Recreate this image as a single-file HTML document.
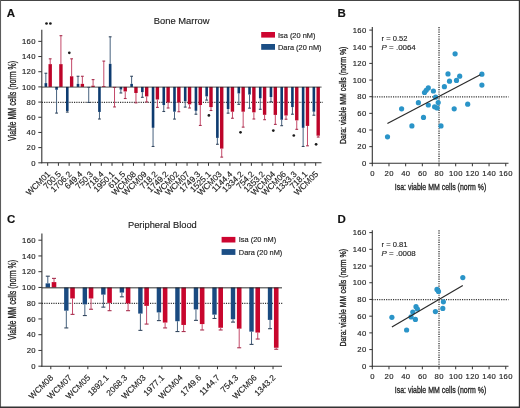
<!DOCTYPE html>
<html><head><meta charset="utf-8"><style>
html,body{margin:0;padding:0;background:#fff;}
svg{display:block;font-family:"Liberation Sans", sans-serif;will-change:transform;}
text{stroke:#222;stroke-width:0.15px;paint-order:stroke;}
</style></head><body>
<svg width="520" height="408" viewBox="0 0 520 408">
<rect x="0" y="0" width="520" height="408" fill="#fff"/>
<line x1="41.8" y1="29.8" x2="41.8" y2="163.3" stroke="#333333" stroke-width="1.1" />
<line x1="38.3" y1="162.8" x2="41.8" y2="162.8" stroke="#333333" stroke-width="1" />
<text x="35.85" y="165.55" font-size="7.7" text-anchor="end" font-weight="normal" font-style="normal" fill="#222" letter-spacing="0.35">0</text>
<line x1="38.3" y1="147.62" x2="41.8" y2="147.62" stroke="#333333" stroke-width="1" />
<text x="35.85" y="150.37" font-size="7.7" text-anchor="end" font-weight="normal" font-style="normal" fill="#222" letter-spacing="0.35">20</text>
<line x1="38.3" y1="132.44" x2="41.8" y2="132.44" stroke="#333333" stroke-width="1" />
<text x="35.85" y="135.19" font-size="7.7" text-anchor="end" font-weight="normal" font-style="normal" fill="#222" letter-spacing="0.35">40</text>
<line x1="38.3" y1="117.26" x2="41.8" y2="117.26" stroke="#333333" stroke-width="1" />
<text x="35.85" y="120.01" font-size="7.7" text-anchor="end" font-weight="normal" font-style="normal" fill="#222" letter-spacing="0.35">60</text>
<line x1="38.3" y1="102.08" x2="41.8" y2="102.08" stroke="#333333" stroke-width="1" />
<text x="35.85" y="104.83" font-size="7.7" text-anchor="end" font-weight="normal" font-style="normal" fill="#222" letter-spacing="0.35">80</text>
<line x1="38.3" y1="86.9" x2="41.8" y2="86.9" stroke="#333333" stroke-width="1" />
<text x="35.85" y="89.65" font-size="7.7" text-anchor="end" font-weight="normal" font-style="normal" fill="#222" letter-spacing="0.35">100</text>
<line x1="38.3" y1="71.72" x2="41.8" y2="71.72" stroke="#333333" stroke-width="1" />
<text x="35.85" y="74.47" font-size="7.7" text-anchor="end" font-weight="normal" font-style="normal" fill="#222" letter-spacing="0.35">120</text>
<line x1="38.3" y1="56.54" x2="41.8" y2="56.54" stroke="#333333" stroke-width="1" />
<text x="35.85" y="59.29" font-size="7.7" text-anchor="end" font-weight="normal" font-style="normal" fill="#222" letter-spacing="0.35">140</text>
<line x1="38.3" y1="41.36" x2="41.8" y2="41.36" stroke="#333333" stroke-width="1" />
<text x="35.85" y="44.11" font-size="7.7" text-anchor="end" font-weight="normal" font-style="normal" fill="#222" letter-spacing="0.35">160</text>
<line x1="41.3" y1="162.8" x2="321.5" y2="162.8" stroke="#333333" stroke-width="1.1" />
<line x1="47.7" y1="162.8" x2="47.7" y2="165.8" stroke="#333333" stroke-width="1" />
<text x="50.8" y="174.7" font-size="8.4" text-anchor="end" fill="#1a1a1a" style="stroke-width:0.12px" transform="rotate(-45 50.8 174.7)">WCM01</text>
<line x1="58.42" y1="162.8" x2="58.42" y2="165.8" stroke="#333333" stroke-width="1" />
<text x="61.52" y="174.7" font-size="8.4" text-anchor="end" fill="#1a1a1a" style="stroke-width:0.12px" transform="rotate(-45 61.52 174.7)">700.5</text>
<line x1="69.14" y1="162.8" x2="69.14" y2="165.8" stroke="#333333" stroke-width="1" />
<text x="72.24" y="174.7" font-size="8.4" text-anchor="end" fill="#1a1a1a" style="stroke-width:0.12px" transform="rotate(-45 72.24 174.7)">1706.2</text>
<line x1="79.86" y1="162.8" x2="79.86" y2="165.8" stroke="#333333" stroke-width="1" />
<text x="82.96" y="174.7" font-size="8.4" text-anchor="end" fill="#1a1a1a" style="stroke-width:0.12px" transform="rotate(-45 82.96 174.7)">649.4</text>
<line x1="90.58" y1="162.8" x2="90.58" y2="165.8" stroke="#333333" stroke-width="1" />
<text x="93.68" y="174.7" font-size="8.4" text-anchor="end" fill="#1a1a1a" style="stroke-width:0.12px" transform="rotate(-45 93.68 174.7)">750.3</text>
<line x1="101.3" y1="162.8" x2="101.3" y2="165.8" stroke="#333333" stroke-width="1" />
<text x="104.4" y="174.7" font-size="8.4" text-anchor="end" fill="#1a1a1a" style="stroke-width:0.12px" transform="rotate(-45 104.4 174.7)">718.4</text>
<line x1="112.02" y1="162.8" x2="112.02" y2="165.8" stroke="#333333" stroke-width="1" />
<text x="115.12" y="174.7" font-size="8.4" text-anchor="end" fill="#1a1a1a" style="stroke-width:0.12px" transform="rotate(-45 115.12 174.7)">1950.1</text>
<line x1="122.74" y1="162.8" x2="122.74" y2="165.8" stroke="#333333" stroke-width="1" />
<text x="125.84" y="174.7" font-size="8.4" text-anchor="end" fill="#1a1a1a" style="stroke-width:0.12px" transform="rotate(-45 125.84 174.7)">611.5</text>
<line x1="133.46" y1="162.8" x2="133.46" y2="165.8" stroke="#333333" stroke-width="1" />
<text x="136.56" y="174.7" font-size="8.4" text-anchor="end" fill="#1a1a1a" style="stroke-width:0.12px" transform="rotate(-45 136.56 174.7)">WCM08</text>
<line x1="144.18" y1="162.8" x2="144.18" y2="165.8" stroke="#333333" stroke-width="1" />
<text x="147.28" y="174.7" font-size="8.4" text-anchor="end" fill="#1a1a1a" style="stroke-width:0.12px" transform="rotate(-45 147.28 174.7)">WCM09</text>
<line x1="154.9" y1="162.8" x2="154.9" y2="165.8" stroke="#333333" stroke-width="1" />
<text x="158" y="174.7" font-size="8.4" text-anchor="end" fill="#1a1a1a" style="stroke-width:0.12px" transform="rotate(-45 158 174.7)">718.2</text>
<line x1="165.62" y1="162.8" x2="165.62" y2="165.8" stroke="#333333" stroke-width="1" />
<text x="168.72" y="174.7" font-size="8.4" text-anchor="end" fill="#1a1a1a" style="stroke-width:0.12px" transform="rotate(-45 168.72 174.7)">1749.2</text>
<line x1="176.34" y1="162.8" x2="176.34" y2="165.8" stroke="#333333" stroke-width="1" />
<text x="179.44" y="174.7" font-size="8.4" text-anchor="end" fill="#1a1a1a" style="stroke-width:0.12px" transform="rotate(-45 179.44 174.7)">WCM02</text>
<line x1="187.06" y1="162.8" x2="187.06" y2="165.8" stroke="#333333" stroke-width="1" />
<text x="190.16" y="174.7" font-size="8.4" text-anchor="end" fill="#1a1a1a" style="stroke-width:0.12px" transform="rotate(-45 190.16 174.7)">WCM07</text>
<line x1="197.78" y1="162.8" x2="197.78" y2="165.8" stroke="#333333" stroke-width="1" />
<text x="200.88" y="174.7" font-size="8.4" text-anchor="end" fill="#1a1a1a" style="stroke-width:0.12px" transform="rotate(-45 200.88 174.7)">1749.3</text>
<line x1="208.5" y1="162.8" x2="208.5" y2="165.8" stroke="#333333" stroke-width="1" />
<text x="211.6" y="174.7" font-size="8.4" text-anchor="end" fill="#1a1a1a" style="stroke-width:0.12px" transform="rotate(-45 211.6 174.7)">1525.1</text>
<line x1="219.22" y1="162.8" x2="219.22" y2="165.8" stroke="#333333" stroke-width="1" />
<text x="222.32" y="174.7" font-size="8.4" text-anchor="end" fill="#1a1a1a" style="stroke-width:0.12px" transform="rotate(-45 222.32 174.7)">WCM03</text>
<line x1="229.94" y1="162.8" x2="229.94" y2="165.8" stroke="#333333" stroke-width="1" />
<text x="233.04" y="174.7" font-size="8.4" text-anchor="end" fill="#1a1a1a" style="stroke-width:0.12px" transform="rotate(-45 233.04 174.7)">1144.4</text>
<line x1="240.66" y1="162.8" x2="240.66" y2="165.8" stroke="#333333" stroke-width="1" />
<text x="243.76" y="174.7" font-size="8.4" text-anchor="end" fill="#1a1a1a" style="stroke-width:0.12px" transform="rotate(-45 243.76 174.7)">1334.2</text>
<line x1="251.38" y1="162.8" x2="251.38" y2="165.8" stroke="#333333" stroke-width="1" />
<text x="254.48" y="174.7" font-size="8.4" text-anchor="end" fill="#1a1a1a" style="stroke-width:0.12px" transform="rotate(-45 254.48 174.7)">754.2</text>
<line x1="262.1" y1="162.8" x2="262.1" y2="165.8" stroke="#333333" stroke-width="1" />
<text x="265.2" y="174.7" font-size="8.4" text-anchor="end" fill="#1a1a1a" style="stroke-width:0.12px" transform="rotate(-45 265.2 174.7)">1353.2</text>
<line x1="272.82" y1="162.8" x2="272.82" y2="165.8" stroke="#333333" stroke-width="1" />
<text x="275.92" y="174.7" font-size="8.4" text-anchor="end" fill="#1a1a1a" style="stroke-width:0.12px" transform="rotate(-45 275.92 174.7)">WCM04</text>
<line x1="283.54" y1="162.8" x2="283.54" y2="165.8" stroke="#333333" stroke-width="1" />
<text x="286.64" y="174.7" font-size="8.4" text-anchor="end" fill="#1a1a1a" style="stroke-width:0.12px" transform="rotate(-45 286.64 174.7)">WCM06</text>
<line x1="294.26" y1="162.8" x2="294.26" y2="165.8" stroke="#333333" stroke-width="1" />
<text x="297.36" y="174.7" font-size="8.4" text-anchor="end" fill="#1a1a1a" style="stroke-width:0.12px" transform="rotate(-45 297.36 174.7)">1333.3</text>
<line x1="304.98" y1="162.8" x2="304.98" y2="165.8" stroke="#333333" stroke-width="1" />
<text x="308.08" y="174.7" font-size="8.4" text-anchor="end" fill="#1a1a1a" style="stroke-width:0.12px" transform="rotate(-45 308.08 174.7)">718.1</text>
<line x1="315.7" y1="162.8" x2="315.7" y2="165.8" stroke="#333333" stroke-width="1" />
<text x="318.8" y="174.7" font-size="8.4" text-anchor="end" fill="#1a1a1a" style="stroke-width:0.12px" transform="rotate(-45 318.8 174.7)">WCM05</text>
<line x1="41.8" y1="102.28" x2="323" y2="102.28" stroke="#333" stroke-width="1.3" stroke-dasharray="1.15 1.15"/>
<rect x="44.55" y="83.11" width="2.6" height="3.8" fill="#0d3b70"/>
<line x1="45.85" y1="83.11" x2="45.85" y2="73.24" stroke="#47627f" stroke-width="1.0" />
<line x1="44.45" y1="73.24" x2="47.25" y2="73.24" stroke="#34475e" stroke-width="1.1" />
<rect x="48.5" y="64.13" width="3.4" height="22.77" fill="#bd0429"/>
<line x1="50.2" y1="64.13" x2="50.2" y2="58.82" stroke="#c44a6a" stroke-width="1.0" />
<line x1="48.8" y1="58.82" x2="51.6" y2="58.82" stroke="#a8304f" stroke-width="1.1" />
<rect x="55.27" y="86.9" width="2.6" height="2.88" fill="#0d3b70"/>
<line x1="56.57" y1="89.78" x2="56.57" y2="113.09" stroke="#47627f" stroke-width="1.0" />
<line x1="55.17" y1="113.09" x2="57.97" y2="113.09" stroke="#34475e" stroke-width="1.1" />
<rect x="59.22" y="64.13" width="3.4" height="22.77" fill="#bd0429"/>
<line x1="60.92" y1="64.13" x2="60.92" y2="35.67" stroke="#c44a6a" stroke-width="1.0" />
<line x1="59.52" y1="35.67" x2="62.32" y2="35.67" stroke="#a8304f" stroke-width="1.1" />
<rect x="65.99" y="86.9" width="2.6" height="24.06" fill="#0d3b70"/>
<line x1="67.29" y1="110.96" x2="67.29" y2="112.1" stroke="#47627f" stroke-width="1.0" />
<line x1="65.89" y1="112.1" x2="68.69" y2="112.1" stroke="#34475e" stroke-width="1.1" />
<rect x="69.94" y="76.27" width="3.4" height="10.63" fill="#bd0429"/>
<line x1="71.64" y1="76.27" x2="71.64" y2="58.82" stroke="#c44a6a" stroke-width="1.0" />
<line x1="70.24" y1="58.82" x2="73.04" y2="58.82" stroke="#a8304f" stroke-width="1.1" />
<rect x="76.71" y="83.86" width="2.6" height="3.04" fill="#0d3b70"/>
<line x1="78.01" y1="83.86" x2="78.01" y2="76.27" stroke="#47627f" stroke-width="1.0" />
<line x1="76.61" y1="76.27" x2="79.41" y2="76.27" stroke="#34475e" stroke-width="1.1" />
<rect x="80.66" y="83.86" width="3.4" height="3.04" fill="#bd0429"/>
<line x1="82.36" y1="83.86" x2="82.36" y2="76.27" stroke="#c44a6a" stroke-width="1.0" />
<line x1="80.96" y1="76.27" x2="83.76" y2="76.27" stroke="#a8304f" stroke-width="1.1" />
<rect x="87.43" y="86.9" width="2.6" height="0.76" fill="#0d3b70"/>
<line x1="88.73" y1="87.66" x2="88.73" y2="102.46" stroke="#47627f" stroke-width="1.0" />
<line x1="87.33" y1="102.46" x2="90.13" y2="102.46" stroke="#34475e" stroke-width="1.1" />
<rect x="91.38" y="85.69" width="3.4" height="1.21" fill="#bd0429"/>
<line x1="93.08" y1="85.69" x2="93.08" y2="79.61" stroke="#c44a6a" stroke-width="1.0" />
<line x1="91.68" y1="79.61" x2="94.48" y2="79.61" stroke="#a8304f" stroke-width="1.1" />
<rect x="98.15" y="86.9" width="2.6" height="25.05" fill="#0d3b70"/>
<line x1="99.45" y1="111.95" x2="99.45" y2="119.01" stroke="#47627f" stroke-width="1.0" />
<line x1="98.05" y1="119.01" x2="100.85" y2="119.01" stroke="#34475e" stroke-width="1.1" />
<rect x="102.1" y="86.14" width="3.4" height="0.76" fill="#bd0429"/>
<line x1="103.8" y1="86.14" x2="103.8" y2="61.09" stroke="#c44a6a" stroke-width="1.0" />
<line x1="102.4" y1="61.09" x2="105.2" y2="61.09" stroke="#a8304f" stroke-width="1.1" />
<rect x="108.87" y="63.83" width="2.6" height="23.07" fill="#0d3b70"/>
<line x1="110.17" y1="63.83" x2="110.17" y2="36.81" stroke="#47627f" stroke-width="1.0" />
<line x1="108.77" y1="36.81" x2="111.57" y2="36.81" stroke="#34475e" stroke-width="1.1" />
<rect x="112.82" y="86.9" width="3.4" height="0.76" fill="#bd0429"/>
<line x1="114.52" y1="87.66" x2="114.52" y2="106.94" stroke="#c44a6a" stroke-width="1.0" />
<line x1="113.12" y1="106.94" x2="115.92" y2="106.94" stroke="#a8304f" stroke-width="1.1" />
<rect x="119.59" y="86.9" width="2.6" height="2.66" fill="#0d3b70"/>
<line x1="120.89" y1="89.56" x2="120.89" y2="92.97" stroke="#47627f" stroke-width="1.0" />
<line x1="119.49" y1="92.97" x2="122.29" y2="92.97" stroke="#34475e" stroke-width="1.1" />
<rect x="123.54" y="86.9" width="3.4" height="4.55" fill="#bd0429"/>
<line x1="125.24" y1="91.45" x2="125.24" y2="98.51" stroke="#c44a6a" stroke-width="1.0" />
<line x1="123.84" y1="98.51" x2="126.64" y2="98.51" stroke="#a8304f" stroke-width="1.1" />
<rect x="130.31" y="83.86" width="2.6" height="3.04" fill="#0d3b70"/>
<line x1="131.61" y1="83.86" x2="131.61" y2="76.27" stroke="#47627f" stroke-width="1.0" />
<line x1="130.21" y1="76.27" x2="133.01" y2="76.27" stroke="#34475e" stroke-width="1.1" />
<rect x="134.26" y="86.9" width="3.4" height="6.07" fill="#bd0429"/>
<line x1="135.96" y1="92.97" x2="135.96" y2="102.84" stroke="#c44a6a" stroke-width="1.0" />
<line x1="134.56" y1="102.84" x2="137.36" y2="102.84" stroke="#a8304f" stroke-width="1.1" />
<rect x="141.03" y="86.9" width="2.6" height="5.24" fill="#0d3b70"/>
<line x1="142.33" y1="92.14" x2="142.33" y2="97.3" stroke="#47627f" stroke-width="1.0" />
<line x1="140.93" y1="97.3" x2="143.73" y2="97.3" stroke="#34475e" stroke-width="1.1" />
<rect x="144.98" y="86.9" width="3.4" height="9.49" fill="#bd0429"/>
<line x1="146.68" y1="96.39" x2="146.68" y2="101.93" stroke="#c44a6a" stroke-width="1.0" />
<line x1="145.28" y1="101.93" x2="148.08" y2="101.93" stroke="#a8304f" stroke-width="1.1" />
<rect x="151.75" y="86.9" width="2.6" height="40.91" fill="#0d3b70"/>
<line x1="153.05" y1="127.81" x2="153.05" y2="146.48" stroke="#47627f" stroke-width="1.0" />
<line x1="151.65" y1="146.48" x2="154.45" y2="146.48" stroke="#34475e" stroke-width="1.1" />
<rect x="155.7" y="86.9" width="3.4" height="12.6" fill="#bd0429"/>
<line x1="157.4" y1="99.5" x2="157.4" y2="107.39" stroke="#c44a6a" stroke-width="1.0" />
<line x1="156" y1="107.39" x2="158.8" y2="107.39" stroke="#a8304f" stroke-width="1.1" />
<rect x="162.47" y="86.9" width="2.6" height="18.14" fill="#0d3b70"/>
<line x1="163.77" y1="105.04" x2="163.77" y2="111.49" stroke="#47627f" stroke-width="1.0" />
<line x1="162.37" y1="111.49" x2="165.17" y2="111.49" stroke="#34475e" stroke-width="1.1" />
<rect x="166.42" y="86.9" width="3.4" height="15.64" fill="#bd0429"/>
<line x1="168.12" y1="102.54" x2="168.12" y2="108" stroke="#c44a6a" stroke-width="1.0" />
<line x1="166.72" y1="108" x2="169.52" y2="108" stroke="#a8304f" stroke-width="1.1" />
<rect x="173.19" y="86.9" width="2.6" height="24.82" fill="#0d3b70"/>
<line x1="174.49" y1="111.72" x2="174.49" y2="119.08" stroke="#47627f" stroke-width="1.0" />
<line x1="173.09" y1="119.08" x2="175.89" y2="119.08" stroke="#34475e" stroke-width="1.1" />
<rect x="177.14" y="86.9" width="3.4" height="15.64" fill="#bd0429"/>
<line x1="178.84" y1="102.54" x2="178.84" y2="111.72" stroke="#c44a6a" stroke-width="1.0" />
<line x1="177.44" y1="111.72" x2="180.24" y2="111.72" stroke="#a8304f" stroke-width="1.1" />
<rect x="183.91" y="86.9" width="2.6" height="14.42" fill="#0d3b70"/>
<line x1="185.21" y1="101.32" x2="185.21" y2="107.09" stroke="#47627f" stroke-width="1.0" />
<line x1="183.81" y1="107.09" x2="186.61" y2="107.09" stroke="#34475e" stroke-width="1.1" />
<rect x="187.86" y="86.9" width="3.4" height="17.46" fill="#bd0429"/>
<line x1="189.56" y1="104.36" x2="189.56" y2="108" stroke="#c44a6a" stroke-width="1.0" />
<line x1="188.16" y1="108" x2="190.96" y2="108" stroke="#a8304f" stroke-width="1.1" />
<rect x="194.63" y="86.9" width="2.6" height="23.91" fill="#0d3b70"/>
<line x1="195.93" y1="110.81" x2="195.93" y2="114.22" stroke="#47627f" stroke-width="1.0" />
<line x1="194.53" y1="114.22" x2="197.33" y2="114.22" stroke="#34475e" stroke-width="1.1" />
<rect x="198.58" y="86.9" width="3.4" height="18.14" fill="#bd0429"/>
<line x1="200.28" y1="105.04" x2="200.28" y2="125.46" stroke="#c44a6a" stroke-width="1.0" />
<line x1="198.88" y1="125.46" x2="201.68" y2="125.46" stroke="#a8304f" stroke-width="1.1" />
<rect x="205.35" y="86.9" width="2.6" height="9.49" fill="#0d3b70"/>
<line x1="206.65" y1="96.39" x2="206.65" y2="100.11" stroke="#47627f" stroke-width="1.0" />
<line x1="205.25" y1="100.11" x2="208.05" y2="100.11" stroke="#34475e" stroke-width="1.1" />
<rect x="209.3" y="86.9" width="3.4" height="20.19" fill="#bd0429"/>
<line x1="211" y1="107.09" x2="211" y2="110.5" stroke="#c44a6a" stroke-width="1.0" />
<line x1="209.6" y1="110.5" x2="212.4" y2="110.5" stroke="#a8304f" stroke-width="1.1" />
<rect x="216.07" y="86.9" width="2.6" height="51" fill="#0d3b70"/>
<line x1="217.37" y1="137.9" x2="217.37" y2="144.28" stroke="#47627f" stroke-width="1.0" />
<line x1="215.97" y1="144.28" x2="218.77" y2="144.28" stroke="#34475e" stroke-width="1.1" />
<rect x="220.02" y="86.9" width="3.4" height="61.71" fill="#bd0429"/>
<line x1="221.72" y1="148.61" x2="221.72" y2="157.11" stroke="#c44a6a" stroke-width="1.0" />
<line x1="220.32" y1="157.11" x2="223.12" y2="157.11" stroke="#a8304f" stroke-width="1.1" />
<rect x="226.79" y="86.9" width="2.6" height="22.09" fill="#0d3b70"/>
<line x1="228.09" y1="108.99" x2="228.09" y2="113.16" stroke="#47627f" stroke-width="1.0" />
<line x1="226.69" y1="113.16" x2="229.49" y2="113.16" stroke="#34475e" stroke-width="1.1" />
<rect x="230.74" y="86.9" width="3.4" height="24.82" fill="#bd0429"/>
<line x1="232.44" y1="111.72" x2="232.44" y2="118.25" stroke="#c44a6a" stroke-width="1.0" />
<line x1="231.04" y1="118.25" x2="233.84" y2="118.25" stroke="#a8304f" stroke-width="1.1" />
<rect x="237.51" y="86.9" width="2.6" height="6.53" fill="#0d3b70"/>
<line x1="238.81" y1="93.43" x2="238.81" y2="104.36" stroke="#47627f" stroke-width="1.0" />
<line x1="237.41" y1="104.36" x2="240.21" y2="104.36" stroke="#34475e" stroke-width="1.1" />
<rect x="241.46" y="86.9" width="3.4" height="24.82" fill="#bd0429"/>
<line x1="243.16" y1="111.72" x2="243.16" y2="127.13" stroke="#c44a6a" stroke-width="1.0" />
<line x1="241.76" y1="127.13" x2="244.56" y2="127.13" stroke="#a8304f" stroke-width="1.1" />
<rect x="248.23" y="86.9" width="2.6" height="7.67" fill="#0d3b70"/>
<line x1="249.53" y1="94.57" x2="249.53" y2="108.15" stroke="#47627f" stroke-width="1.0" />
<line x1="248.13" y1="108.15" x2="250.93" y2="108.15" stroke="#34475e" stroke-width="1.1" />
<rect x="252.18" y="86.9" width="3.4" height="25.43" fill="#bd0429"/>
<line x1="253.88" y1="112.33" x2="253.88" y2="119.01" stroke="#c44a6a" stroke-width="1.0" />
<line x1="252.48" y1="119.01" x2="255.28" y2="119.01" stroke="#a8304f" stroke-width="1.1" />
<rect x="258.95" y="86.9" width="2.6" height="11.39" fill="#0d3b70"/>
<line x1="260.25" y1="98.29" x2="260.25" y2="109.29" stroke="#47627f" stroke-width="1.0" />
<line x1="258.85" y1="109.29" x2="261.65" y2="109.29" stroke="#34475e" stroke-width="1.1" />
<rect x="262.9" y="86.9" width="3.4" height="27.93" fill="#bd0429"/>
<line x1="264.6" y1="114.83" x2="264.6" y2="119.69" stroke="#c44a6a" stroke-width="1.0" />
<line x1="263.2" y1="119.69" x2="266" y2="119.69" stroke="#a8304f" stroke-width="1.1" />
<rect x="269.67" y="86.9" width="2.6" height="10.09" fill="#0d3b70"/>
<line x1="270.97" y1="96.99" x2="270.97" y2="101.7" stroke="#47627f" stroke-width="1.0" />
<line x1="269.57" y1="101.7" x2="272.37" y2="101.7" stroke="#34475e" stroke-width="1.1" />
<rect x="273.62" y="86.9" width="3.4" height="28.01" fill="#bd0429"/>
<line x1="275.32" y1="114.91" x2="275.32" y2="124.39" stroke="#c44a6a" stroke-width="1.0" />
<line x1="273.92" y1="124.39" x2="276.72" y2="124.39" stroke="#a8304f" stroke-width="1.1" />
<rect x="280.39" y="86.9" width="2.6" height="32.86" fill="#0d3b70"/>
<line x1="281.69" y1="119.76" x2="281.69" y2="125.68" stroke="#47627f" stroke-width="1.0" />
<line x1="280.29" y1="125.68" x2="283.09" y2="125.68" stroke="#34475e" stroke-width="1.1" />
<rect x="284.34" y="86.9" width="3.4" height="28.61" fill="#bd0429"/>
<line x1="286.04" y1="115.51" x2="286.04" y2="119.23" stroke="#c44a6a" stroke-width="1.0" />
<line x1="284.64" y1="119.23" x2="287.44" y2="119.23" stroke="#a8304f" stroke-width="1.1" />
<rect x="291.11" y="86.9" width="2.6" height="20.19" fill="#0d3b70"/>
<line x1="292.41" y1="107.09" x2="292.41" y2="114.22" stroke="#47627f" stroke-width="1.0" />
<line x1="291.01" y1="114.22" x2="293.81" y2="114.22" stroke="#34475e" stroke-width="1.1" />
<rect x="295.06" y="86.9" width="3.4" height="33.47" fill="#bd0429"/>
<line x1="296.76" y1="120.37" x2="296.76" y2="129.33" stroke="#c44a6a" stroke-width="1.0" />
<line x1="295.36" y1="129.33" x2="298.16" y2="129.33" stroke="#a8304f" stroke-width="1.1" />
<rect x="301.83" y="86.9" width="2.6" height="40.91" fill="#0d3b70"/>
<line x1="303.13" y1="127.81" x2="303.13" y2="146.48" stroke="#47627f" stroke-width="1.0" />
<line x1="301.73" y1="146.48" x2="304.53" y2="146.48" stroke="#34475e" stroke-width="1.1" />
<rect x="305.78" y="86.9" width="3.4" height="39.01" fill="#bd0429"/>
<line x1="307.48" y1="125.91" x2="307.48" y2="145.8" stroke="#c44a6a" stroke-width="1.0" />
<line x1="306.08" y1="145.8" x2="308.88" y2="145.8" stroke="#a8304f" stroke-width="1.1" />
<rect x="312.55" y="86.9" width="2.6" height="24.82" fill="#0d3b70"/>
<line x1="313.85" y1="111.72" x2="313.85" y2="115.21" stroke="#47627f" stroke-width="1.0" />
<line x1="312.45" y1="115.21" x2="315.25" y2="115.21" stroke="#34475e" stroke-width="1.1" />
<rect x="316.5" y="86.9" width="3.4" height="48.8" fill="#bd0429"/>
<line x1="318.2" y1="135.7" x2="318.2" y2="137.07" stroke="#c44a6a" stroke-width="1.0" />
<line x1="316.8" y1="137.07" x2="319.6" y2="137.07" stroke="#a8304f" stroke-width="1.1" />
<line x1="41.8" y1="87.2" x2="321.6" y2="87.2" stroke="#1e1e1e" stroke-width="1.3" stroke-opacity="0.62"/>
<line x1="41.9" y1="233.4" x2="41.9" y2="366.7" stroke="#333333" stroke-width="1.1" />
<line x1="38.4" y1="366.2" x2="41.9" y2="366.2" stroke="#333333" stroke-width="1" />
<text x="35.95" y="368.95" font-size="7.7" text-anchor="end" font-weight="normal" font-style="normal" fill="#222" letter-spacing="0.35">0</text>
<line x1="38.4" y1="350.45" x2="41.9" y2="350.45" stroke="#333333" stroke-width="1" />
<text x="35.95" y="353.2" font-size="7.7" text-anchor="end" font-weight="normal" font-style="normal" fill="#222" letter-spacing="0.35">20</text>
<line x1="38.4" y1="334.7" x2="41.9" y2="334.7" stroke="#333333" stroke-width="1" />
<text x="35.95" y="337.45" font-size="7.7" text-anchor="end" font-weight="normal" font-style="normal" fill="#222" letter-spacing="0.35">40</text>
<line x1="38.4" y1="318.95" x2="41.9" y2="318.95" stroke="#333333" stroke-width="1" />
<text x="35.95" y="321.7" font-size="7.7" text-anchor="end" font-weight="normal" font-style="normal" fill="#222" letter-spacing="0.35">60</text>
<line x1="38.4" y1="303.2" x2="41.9" y2="303.2" stroke="#333333" stroke-width="1" />
<text x="35.95" y="305.95" font-size="7.7" text-anchor="end" font-weight="normal" font-style="normal" fill="#222" letter-spacing="0.35">80</text>
<line x1="38.4" y1="287.45" x2="41.9" y2="287.45" stroke="#333333" stroke-width="1" />
<text x="35.95" y="290.2" font-size="7.7" text-anchor="end" font-weight="normal" font-style="normal" fill="#222" letter-spacing="0.35">100</text>
<line x1="38.4" y1="271.7" x2="41.9" y2="271.7" stroke="#333333" stroke-width="1" />
<text x="35.95" y="274.45" font-size="7.7" text-anchor="end" font-weight="normal" font-style="normal" fill="#222" letter-spacing="0.35">120</text>
<line x1="38.4" y1="255.95" x2="41.9" y2="255.95" stroke="#333333" stroke-width="1" />
<text x="35.95" y="258.7" font-size="7.7" text-anchor="end" font-weight="normal" font-style="normal" fill="#222" letter-spacing="0.35">140</text>
<line x1="38.4" y1="240.2" x2="41.9" y2="240.2" stroke="#333333" stroke-width="1" />
<text x="35.95" y="242.95" font-size="7.7" text-anchor="end" font-weight="normal" font-style="normal" fill="#222" letter-spacing="0.35">160</text>
<line x1="41.4" y1="366.2" x2="282" y2="366.2" stroke="#333333" stroke-width="1.1" />
<line x1="50.8" y1="366.2" x2="50.8" y2="369.2" stroke="#333333" stroke-width="1" />
<text x="53.7" y="378.3" font-size="8.4" text-anchor="end" fill="#1a1a1a" style="stroke-width:0.12px" transform="rotate(-45 53.7 378.3)">WCM08</text>
<line x1="69.32" y1="366.2" x2="69.32" y2="369.2" stroke="#333333" stroke-width="1" />
<text x="72.22" y="378.3" font-size="8.4" text-anchor="end" fill="#1a1a1a" style="stroke-width:0.12px" transform="rotate(-45 72.22 378.3)">WCM07</text>
<line x1="87.84" y1="366.2" x2="87.84" y2="369.2" stroke="#333333" stroke-width="1" />
<text x="90.74" y="378.3" font-size="8.4" text-anchor="end" fill="#1a1a1a" style="stroke-width:0.12px" transform="rotate(-45 90.74 378.3)">WCM05</text>
<line x1="106.36" y1="366.2" x2="106.36" y2="369.2" stroke="#333333" stroke-width="1" />
<text x="109.26" y="378.3" font-size="8.4" text-anchor="end" fill="#1a1a1a" style="stroke-width:0.12px" transform="rotate(-45 109.26 378.3)">1892.1</text>
<line x1="124.88" y1="366.2" x2="124.88" y2="369.2" stroke="#333333" stroke-width="1" />
<text x="127.78" y="378.3" font-size="8.4" text-anchor="end" fill="#1a1a1a" style="stroke-width:0.12px" transform="rotate(-45 127.78 378.3)">2068.3</text>
<line x1="143.4" y1="366.2" x2="143.4" y2="369.2" stroke="#333333" stroke-width="1" />
<text x="146.3" y="378.3" font-size="8.4" text-anchor="end" fill="#1a1a1a" style="stroke-width:0.12px" transform="rotate(-45 146.3 378.3)">WCM03</text>
<line x1="161.92" y1="366.2" x2="161.92" y2="369.2" stroke="#333333" stroke-width="1" />
<text x="164.82" y="378.3" font-size="8.4" text-anchor="end" fill="#1a1a1a" style="stroke-width:0.12px" transform="rotate(-45 164.82 378.3)">1977.1</text>
<line x1="180.44" y1="366.2" x2="180.44" y2="369.2" stroke="#333333" stroke-width="1" />
<text x="183.34" y="378.3" font-size="8.4" text-anchor="end" fill="#1a1a1a" style="stroke-width:0.12px" transform="rotate(-45 183.34 378.3)">WCM04</text>
<line x1="198.96" y1="366.2" x2="198.96" y2="369.2" stroke="#333333" stroke-width="1" />
<text x="201.86" y="378.3" font-size="8.4" text-anchor="end" fill="#1a1a1a" style="stroke-width:0.12px" transform="rotate(-45 201.86 378.3)">1749.6</text>
<line x1="217.48" y1="366.2" x2="217.48" y2="369.2" stroke="#333333" stroke-width="1" />
<text x="220.38" y="378.3" font-size="8.4" text-anchor="end" fill="#1a1a1a" style="stroke-width:0.12px" transform="rotate(-45 220.38 378.3)">1144.7</text>
<line x1="236" y1="366.2" x2="236" y2="369.2" stroke="#333333" stroke-width="1" />
<text x="238.9" y="378.3" font-size="8.4" text-anchor="end" fill="#1a1a1a" style="stroke-width:0.12px" transform="rotate(-45 238.9 378.3)">754.3</text>
<line x1="254.52" y1="366.2" x2="254.52" y2="369.2" stroke="#333333" stroke-width="1" />
<text x="257.42" y="378.3" font-size="8.4" text-anchor="end" fill="#1a1a1a" style="stroke-width:0.12px" transform="rotate(-45 257.42 378.3)">WCM06</text>
<line x1="273.04" y1="366.2" x2="273.04" y2="369.2" stroke="#333333" stroke-width="1" />
<text x="275.94" y="378.3" font-size="8.4" text-anchor="end" fill="#1a1a1a" style="stroke-width:0.12px" transform="rotate(-45 275.94 378.3)">1343.2</text>
<line x1="41.9" y1="303.4" x2="283" y2="303.4" stroke="#333" stroke-width="1.3" stroke-dasharray="1.15 1.15"/>
<rect x="45.6" y="283.36" width="4.4" height="4.09" fill="#1a4a80"/>
<line x1="47.8" y1="283.36" x2="47.8" y2="276.19" stroke="#47627f" stroke-width="1.0" />
<line x1="45.8" y1="276.19" x2="49.8" y2="276.19" stroke="#34475e" stroke-width="1.1" />
<rect x="51.7" y="282.1" width="4.6" height="5.35" fill="#c8062d"/>
<line x1="54" y1="282.1" x2="54" y2="278.39" stroke="#c44a6a" stroke-width="1.0" />
<line x1="52" y1="278.39" x2="56" y2="278.39" stroke="#a8304f" stroke-width="1.1" />
<rect x="64.12" y="287.45" width="4.4" height="23.23" fill="#1a4a80"/>
<line x1="66.32" y1="310.68" x2="66.32" y2="327.93" stroke="#47627f" stroke-width="1.0" />
<line x1="64.32" y1="327.93" x2="68.32" y2="327.93" stroke="#34475e" stroke-width="1.1" />
<rect x="70.22" y="287.45" width="4.6" height="11.03" fill="#c8062d"/>
<line x1="72.52" y1="298.48" x2="72.52" y2="314.38" stroke="#c44a6a" stroke-width="1.0" />
<line x1="70.52" y1="314.38" x2="74.52" y2="314.38" stroke="#a8304f" stroke-width="1.1" />
<rect x="82.64" y="287.45" width="4.4" height="16.93" fill="#1a4a80"/>
<line x1="84.84" y1="304.38" x2="84.84" y2="315.56" stroke="#47627f" stroke-width="1.0" />
<line x1="82.84" y1="315.56" x2="86.84" y2="315.56" stroke="#34475e" stroke-width="1.1" />
<rect x="88.74" y="287.45" width="4.6" height="11.03" fill="#c8062d"/>
<line x1="91.04" y1="298.48" x2="91.04" y2="309.26" stroke="#c44a6a" stroke-width="1.0" />
<line x1="89.04" y1="309.26" x2="93.04" y2="309.26" stroke="#a8304f" stroke-width="1.1" />
<rect x="101.16" y="287.45" width="4.4" height="7.17" fill="#1a4a80"/>
<line x1="103.36" y1="294.62" x2="103.36" y2="307.14" stroke="#47627f" stroke-width="1.0" />
<line x1="101.36" y1="307.14" x2="105.36" y2="307.14" stroke="#34475e" stroke-width="1.1" />
<rect x="107.26" y="287.45" width="4.6" height="15.44" fill="#c8062d"/>
<line x1="109.56" y1="302.88" x2="109.56" y2="310.68" stroke="#c44a6a" stroke-width="1.0" />
<line x1="107.56" y1="310.68" x2="111.56" y2="310.68" stroke="#a8304f" stroke-width="1.1" />
<rect x="119.68" y="287.45" width="4.4" height="5.12" fill="#1a4a80"/>
<line x1="121.88" y1="292.57" x2="121.88" y2="296.82" stroke="#47627f" stroke-width="1.0" />
<line x1="119.88" y1="296.82" x2="123.88" y2="296.82" stroke="#34475e" stroke-width="1.1" />
<rect x="125.78" y="287.45" width="4.6" height="15.99" fill="#c8062d"/>
<line x1="128.08" y1="303.44" x2="128.08" y2="310.68" stroke="#c44a6a" stroke-width="1.0" />
<line x1="126.08" y1="310.68" x2="130.08" y2="310.68" stroke="#a8304f" stroke-width="1.1" />
<rect x="138.2" y="287.45" width="4.4" height="26.14" fill="#1a4a80"/>
<line x1="140.4" y1="313.59" x2="140.4" y2="330.37" stroke="#47627f" stroke-width="1.0" />
<line x1="138.4" y1="330.37" x2="142.4" y2="330.37" stroke="#34475e" stroke-width="1.1" />
<rect x="144.3" y="287.45" width="4.6" height="18.43" fill="#c8062d"/>
<line x1="146.6" y1="305.88" x2="146.6" y2="324.07" stroke="#c44a6a" stroke-width="1.0" />
<line x1="144.6" y1="324.07" x2="148.6" y2="324.07" stroke="#a8304f" stroke-width="1.1" />
<rect x="156.72" y="287.45" width="4.4" height="24.96" fill="#1a4a80"/>
<line x1="158.92" y1="312.41" x2="158.92" y2="320.6" stroke="#47627f" stroke-width="1.0" />
<line x1="156.92" y1="320.6" x2="160.92" y2="320.6" stroke="#34475e" stroke-width="1.1" />
<rect x="162.82" y="287.45" width="4.6" height="35.12" fill="#c8062d"/>
<line x1="165.12" y1="322.57" x2="165.12" y2="327.93" stroke="#c44a6a" stroke-width="1.0" />
<line x1="163.12" y1="327.93" x2="167.12" y2="327.93" stroke="#a8304f" stroke-width="1.1" />
<rect x="175.24" y="287.45" width="4.4" height="33.78" fill="#1a4a80"/>
<line x1="177.44" y1="321.23" x2="177.44" y2="331.55" stroke="#47627f" stroke-width="1.0" />
<line x1="175.44" y1="331.55" x2="179.44" y2="331.55" stroke="#34475e" stroke-width="1.1" />
<rect x="181.34" y="287.45" width="4.6" height="37.49" fill="#c8062d"/>
<line x1="183.64" y1="324.94" x2="183.64" y2="331.55" stroke="#c44a6a" stroke-width="1.0" />
<line x1="181.64" y1="331.55" x2="185.64" y2="331.55" stroke="#a8304f" stroke-width="1.1" />
<rect x="193.76" y="287.45" width="4.4" height="21.97" fill="#1a4a80"/>
<line x1="195.96" y1="309.42" x2="195.96" y2="320.37" stroke="#47627f" stroke-width="1.0" />
<line x1="193.96" y1="320.37" x2="197.96" y2="320.37" stroke="#34475e" stroke-width="1.1" />
<rect x="199.86" y="287.45" width="4.6" height="36.62" fill="#c8062d"/>
<line x1="202.16" y1="324.07" x2="202.16" y2="329.97" stroke="#c44a6a" stroke-width="1.0" />
<line x1="200.16" y1="329.97" x2="204.16" y2="329.97" stroke="#a8304f" stroke-width="1.1" />
<rect x="212.28" y="287.45" width="4.4" height="27.17" fill="#1a4a80"/>
<line x1="214.48" y1="314.62" x2="214.48" y2="318.48" stroke="#47627f" stroke-width="1.0" />
<line x1="212.48" y1="318.48" x2="216.48" y2="318.48" stroke="#34475e" stroke-width="1.1" />
<rect x="218.38" y="287.45" width="4.6" height="40.32" fill="#c8062d"/>
<line x1="220.68" y1="327.77" x2="220.68" y2="329.97" stroke="#c44a6a" stroke-width="1.0" />
<line x1="218.68" y1="329.97" x2="222.68" y2="329.97" stroke="#a8304f" stroke-width="1.1" />
<rect x="230.8" y="287.45" width="4.4" height="31.81" fill="#1a4a80"/>
<line x1="233" y1="319.26" x2="233" y2="322.1" stroke="#47627f" stroke-width="1.0" />
<line x1="231" y1="322.1" x2="235" y2="322.1" stroke="#34475e" stroke-width="1.1" />
<rect x="236.9" y="287.45" width="4.6" height="41.19" fill="#c8062d"/>
<line x1="239.2" y1="328.64" x2="239.2" y2="347.77" stroke="#c44a6a" stroke-width="1.0" />
<line x1="237.2" y1="347.77" x2="241.2" y2="347.77" stroke="#a8304f" stroke-width="1.1" />
<rect x="249.32" y="287.45" width="4.4" height="44.18" fill="#1a4a80"/>
<line x1="251.52" y1="331.63" x2="251.52" y2="344.39" stroke="#47627f" stroke-width="1.0" />
<line x1="249.52" y1="344.39" x2="253.52" y2="344.39" stroke="#34475e" stroke-width="1.1" />
<rect x="255.42" y="287.45" width="4.6" height="45.12" fill="#c8062d"/>
<line x1="257.72" y1="332.57" x2="257.72" y2="339.03" stroke="#c44a6a" stroke-width="1.0" />
<line x1="255.72" y1="339.03" x2="259.72" y2="339.03" stroke="#a8304f" stroke-width="1.1" />
<rect x="267.84" y="287.45" width="4.4" height="32.44" fill="#1a4a80"/>
<line x1="270.04" y1="319.89" x2="270.04" y2="328.71" stroke="#47627f" stroke-width="1.0" />
<line x1="268.04" y1="328.71" x2="272.04" y2="328.71" stroke="#34475e" stroke-width="1.1" />
<rect x="273.94" y="287.45" width="4.6" height="60.32" fill="#c8062d"/>
<line x1="276.24" y1="347.77" x2="276.24" y2="349.27" stroke="#c44a6a" stroke-width="1.0" />
<line x1="274.24" y1="349.27" x2="278.24" y2="349.27" stroke="#a8304f" stroke-width="1.1" />
<line x1="41.9" y1="287.75" x2="282" y2="287.75" stroke="#1e1e1e" stroke-width="1.3" stroke-opacity="0.62"/>
<line x1="372.3" y1="27" x2="372.3" y2="163.8" stroke="#333333" stroke-width="1.1" />
<line x1="371.8" y1="163.3" x2="508.5" y2="163.3" stroke="#333333" stroke-width="1.1" />
<line x1="369.3" y1="163.3" x2="372.3" y2="163.3" stroke="#333333" stroke-width="1" />
<text x="366.55" y="166.05" font-size="7.7" text-anchor="end" font-weight="normal" font-style="normal" fill="#222" letter-spacing="0.35">0</text>
<line x1="372.3" y1="163.3" x2="372.3" y2="166.3" stroke="#333333" stroke-width="1" />
<text x="372.48" y="176.1" font-size="7.7" text-anchor="middle" font-weight="normal" font-style="normal" fill="#222" letter-spacing="0.35">0</text>
<line x1="369.3" y1="146.65" x2="372.3" y2="146.65" stroke="#333333" stroke-width="1" />
<text x="366.55" y="149.4" font-size="7.7" text-anchor="end" font-weight="normal" font-style="normal" fill="#222" letter-spacing="0.35">20</text>
<line x1="388.98" y1="163.3" x2="388.98" y2="166.3" stroke="#333333" stroke-width="1" />
<text x="389.16" y="176.1" font-size="7.7" text-anchor="middle" font-weight="normal" font-style="normal" fill="#222" letter-spacing="0.35">20</text>
<line x1="369.3" y1="130" x2="372.3" y2="130" stroke="#333333" stroke-width="1" />
<text x="366.55" y="132.75" font-size="7.7" text-anchor="end" font-weight="normal" font-style="normal" fill="#222" letter-spacing="0.35">40</text>
<line x1="405.66" y1="163.3" x2="405.66" y2="166.3" stroke="#333333" stroke-width="1" />
<text x="405.84" y="176.1" font-size="7.7" text-anchor="middle" font-weight="normal" font-style="normal" fill="#222" letter-spacing="0.35">40</text>
<line x1="369.3" y1="113.35" x2="372.3" y2="113.35" stroke="#333333" stroke-width="1" />
<text x="366.55" y="116.1" font-size="7.7" text-anchor="end" font-weight="normal" font-style="normal" fill="#222" letter-spacing="0.35">60</text>
<line x1="422.34" y1="163.3" x2="422.34" y2="166.3" stroke="#333333" stroke-width="1" />
<text x="422.52" y="176.1" font-size="7.7" text-anchor="middle" font-weight="normal" font-style="normal" fill="#222" letter-spacing="0.35">60</text>
<line x1="369.3" y1="96.7" x2="372.3" y2="96.7" stroke="#333333" stroke-width="1" />
<text x="366.55" y="99.45" font-size="7.7" text-anchor="end" font-weight="normal" font-style="normal" fill="#222" letter-spacing="0.35">80</text>
<line x1="439.02" y1="163.3" x2="439.02" y2="166.3" stroke="#333333" stroke-width="1" />
<text x="439.19" y="176.1" font-size="7.7" text-anchor="middle" font-weight="normal" font-style="normal" fill="#222" letter-spacing="0.35">80</text>
<line x1="369.3" y1="80.05" x2="372.3" y2="80.05" stroke="#333333" stroke-width="1" />
<text x="366.55" y="82.8" font-size="7.7" text-anchor="end" font-weight="normal" font-style="normal" fill="#222" letter-spacing="0.35">100</text>
<line x1="455.7" y1="163.3" x2="455.7" y2="166.3" stroke="#333333" stroke-width="1" />
<text x="455.88" y="176.1" font-size="7.7" text-anchor="middle" font-weight="normal" font-style="normal" fill="#222" letter-spacing="0.35">100</text>
<line x1="369.3" y1="63.4" x2="372.3" y2="63.4" stroke="#333333" stroke-width="1" />
<text x="366.55" y="66.15" font-size="7.7" text-anchor="end" font-weight="normal" font-style="normal" fill="#222" letter-spacing="0.35">120</text>
<line x1="472.38" y1="163.3" x2="472.38" y2="166.3" stroke="#333333" stroke-width="1" />
<text x="472.56" y="176.1" font-size="7.7" text-anchor="middle" font-weight="normal" font-style="normal" fill="#222" letter-spacing="0.35">120</text>
<line x1="369.3" y1="46.75" x2="372.3" y2="46.75" stroke="#333333" stroke-width="1" />
<text x="366.55" y="49.5" font-size="7.7" text-anchor="end" font-weight="normal" font-style="normal" fill="#222" letter-spacing="0.35">140</text>
<line x1="489.06" y1="163.3" x2="489.06" y2="166.3" stroke="#333333" stroke-width="1" />
<text x="489.24" y="176.1" font-size="7.7" text-anchor="middle" font-weight="normal" font-style="normal" fill="#222" letter-spacing="0.35">140</text>
<line x1="369.3" y1="30.1" x2="372.3" y2="30.1" stroke="#333333" stroke-width="1" />
<text x="366.55" y="32.85" font-size="7.7" text-anchor="end" font-weight="normal" font-style="normal" fill="#222" letter-spacing="0.35">160</text>
<line x1="505.74" y1="163.3" x2="505.74" y2="166.3" stroke="#333333" stroke-width="1" />
<text x="505.92" y="176.1" font-size="7.7" text-anchor="middle" font-weight="normal" font-style="normal" fill="#222" letter-spacing="0.35">160</text>
<line x1="439.02" y1="27" x2="439.02" y2="163.3" stroke="#333" stroke-width="1.3" stroke-dasharray="1.15 1.15"/>
<line x1="372.3" y1="96.95" x2="508.5" y2="96.95" stroke="#333" stroke-width="1.3" stroke-dasharray="1.15 1.15"/>
<circle cx="455.1" cy="53.8" r="2.6" fill="#2a94c8"/>
<circle cx="448" cy="73.9" r="2.6" fill="#2a94c8"/>
<circle cx="459.7" cy="76.2" r="2.6" fill="#2a94c8"/>
<circle cx="449.5" cy="81.2" r="2.6" fill="#2a94c8"/>
<circle cx="456.5" cy="80.4" r="2.6" fill="#2a94c8"/>
<circle cx="481.9" cy="74.2" r="2.6" fill="#2a94c8"/>
<circle cx="481.9" cy="85.1" r="2.6" fill="#2a94c8"/>
<circle cx="444.4" cy="86.7" r="2.6" fill="#2a94c8"/>
<circle cx="433.4" cy="91" r="2.6" fill="#2a94c8"/>
<circle cx="428.3" cy="87.9" r="2.6" fill="#2a94c8"/>
<circle cx="426.2" cy="90.3" r="2.6" fill="#2a94c8"/>
<circle cx="424.5" cy="92.5" r="2.6" fill="#2a94c8"/>
<circle cx="435.6" cy="97.2" r="2.6" fill="#2a94c8"/>
<circle cx="438.2" cy="102.5" r="2.6" fill="#2a94c8"/>
<circle cx="434.6" cy="106.8" r="2.6" fill="#2a94c8"/>
<circle cx="437.1" cy="107.9" r="2.6" fill="#2a94c8"/>
<circle cx="467.7" cy="104.2" r="2.6" fill="#2a94c8"/>
<circle cx="387.5" cy="136.8" r="2.6" fill="#2a94c8"/>
<circle cx="401.6" cy="108.8" r="2.6" fill="#2a94c8"/>
<circle cx="411.9" cy="125.9" r="2.6" fill="#2a94c8"/>
<circle cx="423.5" cy="117.4" r="2.6" fill="#2a94c8"/>
<circle cx="418.4" cy="102.7" r="2.6" fill="#2a94c8"/>
<circle cx="428.3" cy="105" r="2.6" fill="#2a94c8"/>
<circle cx="441" cy="125.9" r="2.6" fill="#2a94c8"/>
<circle cx="454.2" cy="108.8" r="2.6" fill="#2a94c8"/>
<line x1="387.4" y1="123.5" x2="480.3" y2="74.8" stroke="#2a2a2a" stroke-width="1.2" />
<text x="381.6" y="40.8" font-size="8.1" text-anchor="start" font-weight="normal" font-style="normal" fill="#222" textLength="25.8" lengthAdjust="spacingAndGlyphs">r = 0.52</text>
<text x="381.6" y="49.9" font-size="8.1" fill="#222" textLength="34.2" lengthAdjust="spacingAndGlyphs"><tspan font-style="italic">P</tspan> = .0064</text>
<text x="394.8" y="190.3" font-size="9.2" text-anchor="start" font-weight="normal" font-style="normal" fill="#222" textLength="91.5" lengthAdjust="spacingAndGlyphs" style="stroke-width:0.32px">Isa: viable MM cells (norm %)</text>
<text x="0" y="0" font-size="9.3" font-weight="normal" text-anchor="middle" fill="#1a1a1a" textLength="97.5" lengthAdjust="spacingAndGlyphs" style="stroke-width:0.32px" transform="translate(346.3 95.3) rotate(-90)">Dara: viable MM cells (norm %)</text>
<line x1="372.3" y1="230.3" x2="372.3" y2="366.8" stroke="#333333" stroke-width="1.1" />
<line x1="371.8" y1="366.3" x2="508.5" y2="366.3" stroke="#333333" stroke-width="1.1" />
<line x1="369.3" y1="366.3" x2="372.3" y2="366.3" stroke="#333333" stroke-width="1" />
<text x="366.55" y="369.05" font-size="7.7" text-anchor="end" font-weight="normal" font-style="normal" fill="#222" letter-spacing="0.35">0</text>
<line x1="372.3" y1="366.3" x2="372.3" y2="369.3" stroke="#333333" stroke-width="1" />
<text x="372.48" y="379.2" font-size="7.7" text-anchor="middle" font-weight="normal" font-style="normal" fill="#222" letter-spacing="0.35">0</text>
<line x1="369.3" y1="349.59" x2="372.3" y2="349.59" stroke="#333333" stroke-width="1" />
<text x="366.55" y="352.34" font-size="7.7" text-anchor="end" font-weight="normal" font-style="normal" fill="#222" letter-spacing="0.35">20</text>
<line x1="388.98" y1="366.3" x2="388.98" y2="369.3" stroke="#333333" stroke-width="1" />
<text x="389.16" y="379.2" font-size="7.7" text-anchor="middle" font-weight="normal" font-style="normal" fill="#222" letter-spacing="0.35">20</text>
<line x1="369.3" y1="332.88" x2="372.3" y2="332.88" stroke="#333333" stroke-width="1" />
<text x="366.55" y="335.63" font-size="7.7" text-anchor="end" font-weight="normal" font-style="normal" fill="#222" letter-spacing="0.35">40</text>
<line x1="405.66" y1="366.3" x2="405.66" y2="369.3" stroke="#333333" stroke-width="1" />
<text x="405.84" y="379.2" font-size="7.7" text-anchor="middle" font-weight="normal" font-style="normal" fill="#222" letter-spacing="0.35">40</text>
<line x1="369.3" y1="316.16" x2="372.3" y2="316.16" stroke="#333333" stroke-width="1" />
<text x="366.55" y="318.91" font-size="7.7" text-anchor="end" font-weight="normal" font-style="normal" fill="#222" letter-spacing="0.35">60</text>
<line x1="422.34" y1="366.3" x2="422.34" y2="369.3" stroke="#333333" stroke-width="1" />
<text x="422.52" y="379.2" font-size="7.7" text-anchor="middle" font-weight="normal" font-style="normal" fill="#222" letter-spacing="0.35">60</text>
<line x1="369.3" y1="299.45" x2="372.3" y2="299.45" stroke="#333333" stroke-width="1" />
<text x="366.55" y="302.2" font-size="7.7" text-anchor="end" font-weight="normal" font-style="normal" fill="#222" letter-spacing="0.35">80</text>
<line x1="439.02" y1="366.3" x2="439.02" y2="369.3" stroke="#333333" stroke-width="1" />
<text x="439.19" y="379.2" font-size="7.7" text-anchor="middle" font-weight="normal" font-style="normal" fill="#222" letter-spacing="0.35">80</text>
<line x1="369.3" y1="282.74" x2="372.3" y2="282.74" stroke="#333333" stroke-width="1" />
<text x="366.55" y="285.49" font-size="7.7" text-anchor="end" font-weight="normal" font-style="normal" fill="#222" letter-spacing="0.35">100</text>
<line x1="455.7" y1="366.3" x2="455.7" y2="369.3" stroke="#333333" stroke-width="1" />
<text x="455.88" y="379.2" font-size="7.7" text-anchor="middle" font-weight="normal" font-style="normal" fill="#222" letter-spacing="0.35">100</text>
<line x1="369.3" y1="266.03" x2="372.3" y2="266.03" stroke="#333333" stroke-width="1" />
<text x="366.55" y="268.78" font-size="7.7" text-anchor="end" font-weight="normal" font-style="normal" fill="#222" letter-spacing="0.35">120</text>
<line x1="472.38" y1="366.3" x2="472.38" y2="369.3" stroke="#333333" stroke-width="1" />
<text x="472.56" y="379.2" font-size="7.7" text-anchor="middle" font-weight="normal" font-style="normal" fill="#222" letter-spacing="0.35">120</text>
<line x1="369.3" y1="249.32" x2="372.3" y2="249.32" stroke="#333333" stroke-width="1" />
<text x="366.55" y="252.07" font-size="7.7" text-anchor="end" font-weight="normal" font-style="normal" fill="#222" letter-spacing="0.35">140</text>
<line x1="489.06" y1="366.3" x2="489.06" y2="369.3" stroke="#333333" stroke-width="1" />
<text x="489.24" y="379.2" font-size="7.7" text-anchor="middle" font-weight="normal" font-style="normal" fill="#222" letter-spacing="0.35">140</text>
<line x1="369.3" y1="232.6" x2="372.3" y2="232.6" stroke="#333333" stroke-width="1" />
<text x="366.55" y="235.35" font-size="7.7" text-anchor="end" font-weight="normal" font-style="normal" fill="#222" letter-spacing="0.35">160</text>
<line x1="505.74" y1="366.3" x2="505.74" y2="369.3" stroke="#333333" stroke-width="1" />
<text x="505.92" y="379.2" font-size="7.7" text-anchor="middle" font-weight="normal" font-style="normal" fill="#222" letter-spacing="0.35">160</text>
<line x1="439.02" y1="230.3" x2="439.02" y2="366.3" stroke="#333" stroke-width="1.3" stroke-dasharray="1.15 1.15"/>
<line x1="372.3" y1="299.7" x2="508.5" y2="299.7" stroke="#333" stroke-width="1.3" stroke-dasharray="1.15 1.15"/>
<circle cx="462.8" cy="277.6" r="2.6" fill="#2a94c8"/>
<circle cx="437" cy="289.4" r="2.6" fill="#2a94c8"/>
<circle cx="438.5" cy="291.4" r="2.6" fill="#2a94c8"/>
<circle cx="443.4" cy="301.8" r="2.6" fill="#2a94c8"/>
<circle cx="442.8" cy="308.4" r="2.6" fill="#2a94c8"/>
<circle cx="435.4" cy="311.6" r="2.6" fill="#2a94c8"/>
<circle cx="416" cy="306.7" r="2.6" fill="#2a94c8"/>
<circle cx="417.4" cy="309" r="2.6" fill="#2a94c8"/>
<circle cx="412.8" cy="312" r="2.6" fill="#2a94c8"/>
<circle cx="411.1" cy="316.9" r="2.6" fill="#2a94c8"/>
<circle cx="415.4" cy="319.4" r="2.6" fill="#2a94c8"/>
<circle cx="391.9" cy="317.3" r="2.6" fill="#2a94c8"/>
<circle cx="406.6" cy="330" r="2.6" fill="#2a94c8"/>
<line x1="391.9" y1="327.1" x2="462.8" y2="285.5" stroke="#2a2a2a" stroke-width="1.2" />
<text x="381.6" y="246.7" font-size="8.1" text-anchor="start" font-weight="normal" font-style="normal" fill="#222" textLength="25.8" lengthAdjust="spacingAndGlyphs">r = 0.81</text>
<text x="381.6" y="255.6" font-size="8.1" fill="#222" textLength="34.2" lengthAdjust="spacingAndGlyphs"><tspan font-style="italic">P</tspan> = .0008</text>
<text x="394.8" y="393.2" font-size="9.2" text-anchor="start" font-weight="normal" font-style="normal" fill="#222" textLength="91.5" lengthAdjust="spacingAndGlyphs" style="stroke-width:0.32px">Isa: viable MM cells (norm %)</text>
<text x="0" y="0" font-size="9.3" font-weight="normal" text-anchor="middle" fill="#1a1a1a" textLength="97.5" lengthAdjust="spacingAndGlyphs" style="stroke-width:0.32px" transform="translate(346.3 297.7) rotate(-90)">Dara: viable MM cells (norm %)</text>
<text x="6.8" y="16.7" font-size="11.5" text-anchor="start" font-weight="bold" font-style="normal" fill="#111" >A</text>
<text x="337.6" y="16.8" font-size="11.5" text-anchor="start" font-weight="bold" font-style="normal" fill="#111" >B</text>
<text x="6.9" y="223.3" font-size="11.5" text-anchor="start" font-weight="bold" font-style="normal" fill="#111" >C</text>
<text x="337.4" y="223.3" font-size="11.5" text-anchor="start" font-weight="bold" font-style="normal" fill="#111" >D</text>
<text x="153.8" y="24.2" font-size="9.4" text-anchor="start" font-weight="normal" font-style="normal" fill="#222" >Bone Marrow</text>
<text x="128" y="227.5" font-size="9.3" text-anchor="start" font-weight="normal" font-style="normal" fill="#222" >Peripheral Blood</text>
<rect x="261.2" y="32" width="13.8" height="5.6" fill="#cd0530"/>
<rect x="261.2" y="44" width="13.8" height="5.8" fill="#1b4e85"/>
<text x="278" y="37.5" font-size="7.4" text-anchor="start" font-weight="normal" font-style="normal" fill="#222" >Isa (20 nM)</text>
<text x="278" y="49.6" font-size="7.4" text-anchor="start" font-weight="normal" font-style="normal" fill="#222" >Dara (20 nM)</text>
<rect x="221.6" y="236.9" width="13.8" height="5.6" fill="#cd0530"/>
<rect x="221.6" y="249.1" width="13.8" height="5.8" fill="#1b4e85"/>
<text x="238.8" y="242.4" font-size="7.4" text-anchor="start" font-weight="normal" font-style="normal" fill="#222" >Isa (20 nM)</text>
<text x="238.8" y="254.7" font-size="7.4" text-anchor="start" font-weight="normal" font-style="normal" fill="#222" >Dara (20 nM)</text>
<text x="0" y="0" font-size="10.1" text-anchor="middle" fill="#1a1a1a" textLength="80" lengthAdjust="spacingAndGlyphs" style="stroke-width:0.3px" transform="translate(15.8 100.9) rotate(-90)">Viable MM cells (norm %)</text>
<text x="0" y="0" font-size="10.1" text-anchor="middle" fill="#1a1a1a" textLength="80" lengthAdjust="spacingAndGlyphs" style="stroke-width:0.3px" transform="translate(15.8 299.9) rotate(-90)">Viable MM cells (norm %)</text>
<circle cx="46.5" cy="23.5" r="1.35" fill="#1a1a1a"/>
<circle cx="50.4" cy="23.5" r="1.35" fill="#1a1a1a"/>
<circle cx="69.3" cy="52.8" r="1.35" fill="#1a1a1a"/>
<circle cx="208.9" cy="115.4" r="1.35" fill="#1a1a1a"/>
<circle cx="240.5" cy="132.3" r="1.35" fill="#1a1a1a"/>
<circle cx="273.3" cy="130.6" r="1.35" fill="#1a1a1a"/>
<circle cx="293.8" cy="135.5" r="1.35" fill="#1a1a1a"/>
<circle cx="316.1" cy="144.3" r="1.35" fill="#1a1a1a"/>
<line x1="0" y1="0.5" x2="520" y2="0.5" stroke="#454545" stroke-width="1"/>
<line x1="0.5" y1="0" x2="0.5" y2="408" stroke="#5c5c5c" stroke-width="1.1"/>
<line x1="519.4" y1="0" x2="519.4" y2="408" stroke="#333" stroke-width="1.2"/>
<line x1="0" y1="407.3" x2="520" y2="407.3" stroke="#333" stroke-width="1.4"/>
</svg>
</body></html>
